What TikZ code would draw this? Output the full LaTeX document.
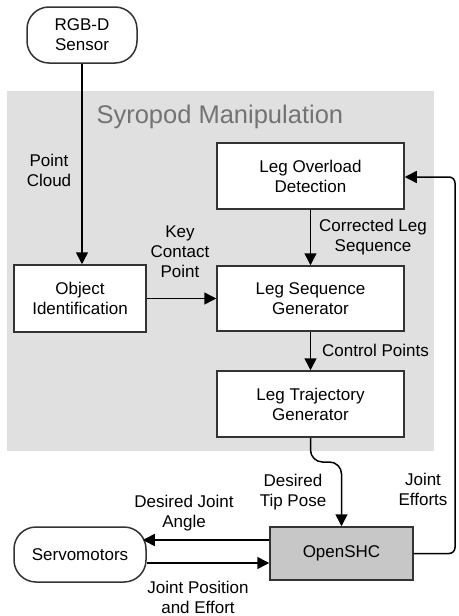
\documentclass[tikz,border=0pt]{standalone}
\usepackage{fontspec}
\setmainfont{Liberation Sans}
\usetikzlibrary{arrows.meta}

\begin{document}
\begin{tikzpicture}[x=1pt, y=1pt,
	font=\fontsize{17}{20}\selectfont,
	block/.style={draw=black!80, line width=1.5pt, fill=white, align=center, minimum width=187pt, minimum height=66pt, inner sep=0pt},
	pill/.style={block, rounded corners=22pt, minimum width=132pt, minimum height=55pt},
	note/.style={align=center, inner sep=0pt},
	flow/.style={line width=1.5pt, -{Triangle[length=12pt,width=12pt]}}
	]
	\useasboundingbox (0,0) rectangle (458,-616);
	
	% manipulation area
	\fill [black!12] (7,-91) rectangle (434,-451);
	\node[anchor=base west, text=black!55, font=\fontsize{25.5}{30}\selectfont] (title) at (93,-123) {Syropod Manipulation};
	
	% blocks
	\node[pill, minimum width=110pt, minimum height=56pt] (sensor) at (82,-35) {RGB-D\\Sensor};
	\node[block, minimum width=132pt, minimum height=67pt] (objid) at (80,-298.5) {Object\\Identification};
	\node[block] (lod) at (310.5,-176) {Leg Overload\\Detection};
	\node[block, minimum height=65pt] (lsg) at (310.5,-298.5) {Leg Sequence\\Generator};
	\node[block] (ltg) at (310.5,-404) {Leg Trajectory\\Generator};
	\node[block, fill=black!22, minimum width=143pt, minimum height=53pt] (openshc) at (341.5,-553.5) {OpenSHC};
	\node[pill] (servo) at (80,-554.5) {Servomotors};
	
	% connectors
	\draw [flow] (sensor.south) -- (sensor.south |- objid.north);
	\draw [flow] (objid.east) -- (lsg.west);
	\draw [flow] (lod) -- (lsg);
	\draw [flow] (lsg) -- (ltg);
	\coordinate (bend) at (341.5,-462);
	\draw [flow, rounded corners=12pt] (ltg.south) |- (bend) -- (openshc.north);
	\coordinate (fb) at (455,-177);
	\draw [flow, rounded corners=6pt] (openshc.east) -| (fb) -- (fb -| lod.east);
	\draw [flow] ([yshift=13.5pt]openshc.west) -- ([xshift=-4pt,yshift=14.5pt]servo.east);
	\draw [flow] ([yshift=-8.5pt]servo.east) -- ([yshift=-9.5pt]openshc.west);
	
	% texts
	\node[note] (pc) at (49,-170) {Point\\Cloud};
	\node[note] (kcp) at (180,-252) {Key\\Contact\\Point};
	\node[note] (cls) at (373,-237) {Corrected Leg\\Sequence};
	\node[note] (cp) at (375.5,-350) {Control Points};
	\node[note] (dtp) at (293,-492) {Desired\\Tip Pose};
	\node[note] (je) at (423,-489) {Joint\\Efforts};
	\node[note] (dja) at (184,-513) {Desired Joint\\Angle};
	\node[note] (jpe) at (198,-597) {Joint Position\\and Effort};
\end{tikzpicture}
\end{document}
